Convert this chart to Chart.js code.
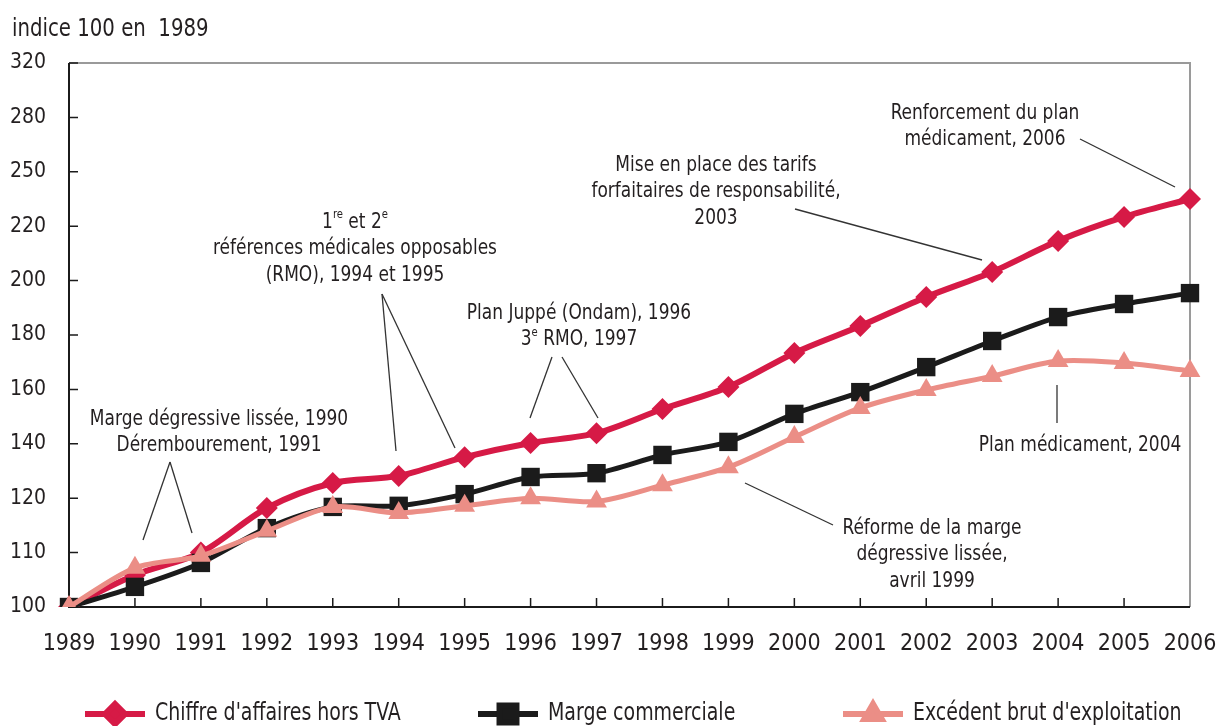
<!DOCTYPE html>
<html>
<head>
<meta charset="utf-8">
<script src="https://cdn.jsdelivr.net/npm/chart.js@4/dist/chart.umd.min.js"></script>
<style>
  body { margin: 0; background: #fff; }
  #chart { display: block; }
</style>
</head>
<body>
<canvas id="chart" width="1220" height="726"></canvas>
<script>
'use strict'

const years = ['1989', '1990', '1991', '1992', '1993', '1994', '1995', '1996', '1997',
  '1998', '1999', '2000', '2001', '2002', '2003', '2004', '2005', '2006'];
// the axis is not linear: each tick label is one equal step
const yTicks = [100, 110, 120, 140, 160, 180, 200, 220, 250, 280, 320];

const chiffreAffaires = [100, 105.9, 110, 118.2, 125.6, 128.2, 135.1, 140.3, 143.9,
  152.8, 160.9, 173.4, 183.3, 194, 203.2, 214.6, 225.1, 235];
const margeCommerciale = [100, 103.7, 108.1, 114.5, 118.4, 118.6, 121.5, 127.8, 129.2,
  135.9, 140.7, 151, 159, 168.2, 177.8, 186.6, 191.4, 195.4];
const excedentBrut = [100, 107.2, 109.4, 114, 118.4, 117.3, 118.6, 120, 119.4,
  124.8, 131.4, 142.5, 153.2, 159.8, 164.9, 170.4, 169.7, 166.8];

const FONT = "'Liberation Sans Narrow', 'DejaVu Sans Condensed', 'Liberation Sans', sans-serif";
const TEXT = '#231f20';
const PINK = 'rgb(214, 26, 70)';
const BLACK = '#1b1b1b';
const SALMON = 'rgb(235, 142, 134)';
const SQUEEZE = 0.86; // horizontal squeeze to mimic the condensed face

// value -> position on the stepped axis
function toAxis(v) {
  for (let i = 0; i < yTicks.length - 1; i++) {
    if (v <= yTicks[i + 1]) return i + (v - yTicks[i]) / (yTicks[i + 1] - yTicks[i]);
  }
  return yTicks.length - 1;
}

// annotations: text lines (with optional superscripts) and leader lines
const notes = [
  { x: 219, y: 419, lines: [[['Marge dégressive lissée, 1990']], [['Dérembourement, 1991']]],
    leaders: [[170, 462, 143, 540], [170, 462, 192, 533]] },
  { x: 355, y: 222, lines: [[['1'], ['re', 1], [' et 2'], ['e', 1]], [['références médicales opposables']], [['(RMO), 1994 et 1995']]],
    leaders: [[382, 294, 396, 451], [382, 294, 455, 448]] },
  { x: 579, y: 313, lines: [[['Plan Juppé (Ondam), 1996']], [['3'], ['e', 1], [' RMO, 1997']]],
    leaders: [[552, 357, 530, 418], [562, 357, 598, 418]] },
  { x: 716, y: 165, lines: [[['Mise en place des tarifs']], [['forfaitaires de responsabilité,']], [['2003']]],
    leaders: [[795, 209, 982, 260]] },
  { x: 985, y: 113, lines: [[['Renforcement du plan']], [['médicament, 2006']]],
    leaders: [[1080, 139, 1175, 187]] },
  { x: 1080, y: 445, lines: [[['Plan médicament, 2004']]],
    leaders: [[1057, 385, 1057, 423]] },
  { x: 932, y: 528, lines: [[['Réforme de la marge']], [['dégressive lissée,']], [['avril 1999']]],
    leaders: [[745, 483, 833, 525]] }
];

const legendItems = [
  { label: "Chiffre d'affaires hors TVA", color: PINK, style: 'rectRot', x: 85 },
  { label: 'Marge commerciale', color: BLACK, style: 'rect', x: 478 },
  { label: "Excédent brut d'exploitation", color: SALMON, style: 'triangle', x: 843 }
];

// draw text squeezed horizontally, left aligned at x
function narrowText(ctx, str, x, y) {
  ctx.save();
  ctx.translate(x, y);
  ctx.scale(SQUEEZE, 1);
  ctx.fillText(str, 0, 0);
  ctx.restore();
  return ctx.measureText(str).width * SQUEEZE;
}

const decorations = {
  id: 'decorations',
  beforeDatasetsDraw(chart) {
    const { ctx, chartArea: a, scales } = chart;
    ctx.save();
    // grey frame top / right
    ctx.strokeStyle = '#9a9a9a';
    ctx.lineWidth = 2;
    ctx.beginPath();
    ctx.moveTo(a.left, a.top); ctx.lineTo(a.right, a.top); ctx.lineTo(a.right, a.bottom);
    ctx.stroke();
    // black axes
    ctx.strokeStyle = '#1b1b1b';
    ctx.beginPath();
    ctx.moveTo(a.left, a.top); ctx.lineTo(a.left, a.bottom); ctx.lineTo(a.right, a.bottom);
    ctx.stroke();
    // inside ticks
    ctx.lineWidth = 1.5;
    ctx.beginPath();
    scales.y.ticks.forEach((t, i) => {
      const y = scales.y.getPixelForTick(i);
      ctx.moveTo(a.left, y); ctx.lineTo(a.left + 9, y);
    });
    scales.x.ticks.forEach((t, i) => {
      if (i === 0 || i === years.length - 1) return;
      const x = scales.x.getPixelForTick(i);
      ctx.moveTo(x, a.bottom); ctx.lineTo(x, a.bottom - 9);
    });
    ctx.stroke();
    ctx.restore();
  },
  afterDraw(chart) {
    const { ctx } = chart;
    ctx.save();
    ctx.fillStyle = TEXT;
    ctx.textAlign = 'left';
    ctx.textBaseline = 'middle';
    ctx.font = '25.5px ' + FONT;
    narrowText(ctx, 'indice 100 en  1989', 12, 29);

    // annotations
    ctx.strokeStyle = '#333';
    ctx.lineWidth = 1.3;
    notes.forEach(n => {
      n.leaders.forEach(l => {
        ctx.beginPath(); ctx.moveTo(l[0], l[1]); ctx.lineTo(l[2], l[3]); ctx.stroke();
      });
      n.lines.forEach((parts, li) => {
        const y = n.y + li * 26.5;
        let w = 0;
        parts.forEach(p => {
          ctx.font = (p[1] ? '13px ' : '22px ') + FONT;
          w += ctx.measureText(p[0]).width * SQUEEZE;
        });
        let x = n.x - w / 2;
        parts.forEach(p => {
          ctx.font = (p[1] ? '13px ' : '22px ') + FONT;
          x += narrowText(ctx, p[0], x, p[1] ? y - 7 : y);
        });
      });
    });

    // legend
    const ly = 714;
    legendItems.forEach(it => {
      ctx.strokeStyle = it.color;
      ctx.lineWidth = 6;
      ctx.beginPath(); ctx.moveTo(it.x, ly); ctx.lineTo(it.x + 60, ly); ctx.stroke();
      ctx.fillStyle = it.color;
      ctx.strokeStyle = it.color;
      Chart.helpers.drawPoint(ctx, { pointStyle: it.style, radius: it.style === 'rect' ? 12 : 10, borderWidth: 1 }, it.x + 30, ly);
      ctx.fillStyle = TEXT;
      ctx.font = '24.5px ' + FONT;
      narrowText(ctx, it.label, it.x + 70, ly);
    });
    ctx.restore();
  }
};

function series(label, values, color, style, radius, width, order) {
  return {
    label,
    data: values.map(toAxis),
    borderColor: color,
    backgroundColor: color,
    borderWidth: width,
    pointStyle: style,
    pointRadius: radius,
    pointBorderWidth: 0,
    pointBackgroundColor: color,
    tension: 0.3,
    order
  };
}

new Chart(document.getElementById('chart'), {
  type: 'line',
  data: {
    labels: years,
    datasets: [
      series("Chiffre d'affaires hors TVA", chiffreAffaires, PINK, 'rectRot', 11, 6, 2),
      series('Marge commerciale', margeCommerciale, BLACK, 'rect', 13, 5, 1),
      series("Excédent brut d'exploitation", excedentBrut, SALMON, 'triangle', 12, 5, 0)
    ]
  },
  options: {
    responsive: false,
    animation: false,
    layout: { padding: { left: 0, top: 63, right: 30, bottom: 0 } },
    plugins: { legend: { display: false }, tooltip: { enabled: false } },
    scales: {
      x: {
        offset: false,
        grid: { display: false },
        border: { display: false },
        ticks: { color: TEXT, font: { family: FONT, size: 23 }, padding: 15, maxRotation: 0, autoSkip: false },
        afterFit: s => { s.height = 119; s.paddingRight = 0; s.paddingLeft = 0; }
      },
      y: {
        min: 0,
        max: yTicks.length - 1,
        grid: { display: false },
        border: { display: false },
        ticks: {
          stepSize: 1,
          color: TEXT,
          font: { family: FONT, size: 21 },
          padding: 15,
          callback: v => yTicks[v]
        },
        afterFit: s => { s.width = 69; }
      }
    }
  },
  plugins: [decorations]
});
</script>
</body>
</html>
